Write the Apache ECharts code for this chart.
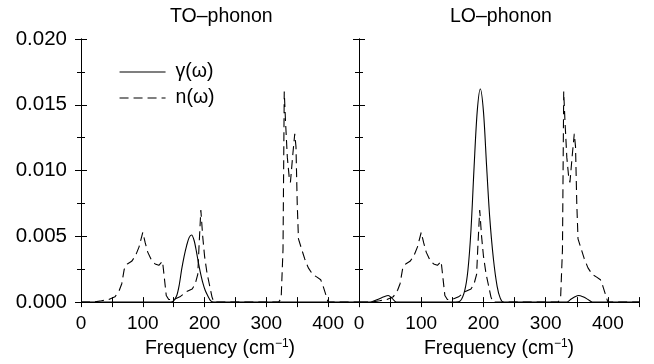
<!DOCTYPE html>
<html>
<head>
<meta charset="utf-8">
<script src="https://cdn.jsdelivr.net/npm/echarts@6/dist/echarts.min.js"></script>
<style>
html,body{margin:0;padding:0;background:#fff;}
#chart{width:654px;height:364px;}
</style>
</head>
<body>
<div id="chart"></div>
<script>
// ---- data ----
const panelTitles = ['TO–phonon', 'LO–phonon'];
const seriesNames = ['γ(ω)', 'n(ω)'];
const xTickLabels = [0, 100, 200, 300, 400];

// phonon density of states n(ω) (same in both panels)
const nOmega = [
  [0,0],[20,0],[33,0.0001],[45,0.0002],[55,0.0004],[62,0.0009],[66,0.0014],[70,0.0025],
  [75,0.0029],[82,0.0031],[88,0.0035],[94,0.0042],[100,0.0053],[104,0.0045],[108,0.0038],
  [114,0.0032],[120,0.0029],[126,0.0028],[132,0.0031],[135,0.0018],[138,0.0005],[142,0.0002],
  [150,0.0002],[160,0.0004],[171,0.0008],[180,0.0010],[185,0.0014],[189,0.0021],[191,0.0042],
  [194,0.0070],[197,0.0050],[200,0.0035],[204,0.0022],[208,0.0013],[212,0.0004],[215,0],
  [320,0],[324,0.0003],[327,0.0040],[329,0.0160],[331,0.0138],[334,0.0110],[337,0.0095],
  [339,0.0091],[343,0.0113],[346,0.0128],[348,0.0118],[350,0.0075],[352,0.0048],[356,0.0042],
  [362,0.0033],[368,0.0026],[375,0.0021],[382,0.0019],[388,0.0017],[392,0.0012],[396,0.0006],
  [400,0],[450,0]
];

// damping γ(ω), TO phonon
const gammaTO = [
  [0,0],[145,0],[150,0.0001],[155,0.0005],[159,0.0013],[163,0.0025],[167,0.0035],[171,0.0043],
  [175,0.0049],[179,0.0051],[183,0.0047],[187,0.0038],[190,0.0030],[193,0.0023],[197,0.0015],
  [201,0.0009],[205,0.0005],[210,0.0001],[215,0],[450,0]
];

// damping γ(ω), LO phonon
const gammaLO = [
  [0,0],[18,0],[30,0.0002],[40,0.0004],[47,0.0005],[53,0.0003],[60,0],[155,0],[163,0.0001],
  [170,0.0009],[175,0.0024],[180,0.0055],[185,0.0103],[190,0.0145],[195,0.0162],[200,0.0145],
  [205,0.0104],[210,0.0065],[216,0.0033],[222,0.0012],[227,0.0003],[232,0],[334,0],[340,0.0002],
  [347,0.0004],[353,0.0005],[360,0.0004],[368,0.0002],[375,0],[450,0]
];

// ---- chart ----
const FONT = "'Liberation Sans', Arial, Helvetica, sans-serif";
const chart = echarts.init(document.getElementById('chart'), null, {renderer: 'canvas'});

const grids = [
  {left: 81, top: 39, width: 278, height: 267},
  {left: 359, top: 39, width: 280, height: 267}
];

function xAxes(gi) {
  const base = {
    type: 'value', gridIndex: gi, min: 0, max: 450, interval: 50,
    axisLine: {show: true, lineStyle: {color: '#000', width: 1}},
    axisTick: {show: true, inside: true, length: 5, lineStyle: {color: '#000'}},
    splitLine: {show: false}
  };
  return [
    Object.assign({}, base, {
      position: 'bottom',
      axisLabel: {
        show: true, interval: 0, margin: 12, color: '#000', fontSize: 19, fontFamily: FONT,
        formatter: v => (xTickLabels.indexOf(v) >= 0 ? String(v) : '')
      },
      name: '{a|Frequency (cm}{s|−1}{a|)}',
      nameLocation: 'middle', nameGap: 31,
      nameTextStyle: {
        color: '#000', fontFamily: FONT,
        rich: {
          a: {fontSize: 19.5, lineHeight: 22, color: '#000', fontFamily: FONT},
          s: {fontSize: 12, lineHeight: 12, verticalAlign: 'top', color: '#000', fontFamily: FONT}
        }
      }
    }),
    Object.assign({}, base, {position: 'top', axisLabel: {show: false}})
  ];
}

function yAxes(gi, labels) {
  const base = {
    type: 'value', gridIndex: gi, min: 0, max: 0.02, interval: 0.005,
    axisLine: {show: true, lineStyle: {color: '#000', width: 1}},
    axisTick: {show: true, inside: true, length: 6, lineStyle: {color: '#000'}},
    minorTick: {show: true, splitNumber: 2, length: 4, lineStyle: {color: '#000'}},
    splitLine: {show: false}, minorSplitLine: {show: false}
  };
  return [
    Object.assign({}, base, {
      position: 'left',
      axisLabel: {show: labels, margin: 14, color: '#000', fontSize: 20.5, fontFamily: FONT,
        formatter: v => v.toFixed(3)}
    }),
    Object.assign({}, base, {position: 'right', axisLabel: {show: false}})
  ];
}

function lineSeries(name, data, xi, yi, dashed) {
  return {
    type: 'line', name: name, data: data, xAxisIndex: xi, yAxisIndex: yi,
    symbol: 'none', showSymbol: false, smooth: dashed ? false : 0.3,
    lineStyle: {color: '#000', width: 1.1, type: dashed ? [9, 5] : 'solid'},
    itemStyle: {color: '#000'}, animation: false, z: 3
  };
}

const option = {
  backgroundColor: '#fff',
  animation: false,
  title: [
    {text: panelTitles[0], left: 165, top: 2, textStyle: {color: '#000', fontSize: 19.5, fontWeight: 'normal', fontFamily: FONT}},
    {text: panelTitles[1], left: 445, top: 2, textStyle: {color: '#000', fontSize: 19.5, fontWeight: 'normal', fontFamily: FONT}}
  ],
  legend: {
    data: seriesNames, orient: 'vertical', left: 114, top: 57,
    itemWidth: 46, itemHeight: 20, itemGap: 6,
    itemStyle: {color: 'rgba(0,0,0,0)', borderWidth: 0, opacity: 0},
    lineStyle: {color: '#000', width: 1.1},
    textStyle: {color: '#000', fontSize: 19.5, fontFamily: FONT, padding: [0, 0, 0, 5]},
    inactiveColor: '#000'
  },
  grid: grids,
  xAxis: [].concat(xAxes(0), xAxes(1)),
  yAxis: [].concat(yAxes(0, true), yAxes(1, false)),
  series: [
    lineSeries(seriesNames[0], gammaTO, 0, 0, false),
    lineSeries(seriesNames[1], nOmega, 0, 0, true),
    lineSeries(seriesNames[0], gammaLO, 2, 2, false),
    lineSeries(seriesNames[1], nOmega, 2, 2, true)
  ]
};
chart.setOption(option);
</script>
</body>
</html>
